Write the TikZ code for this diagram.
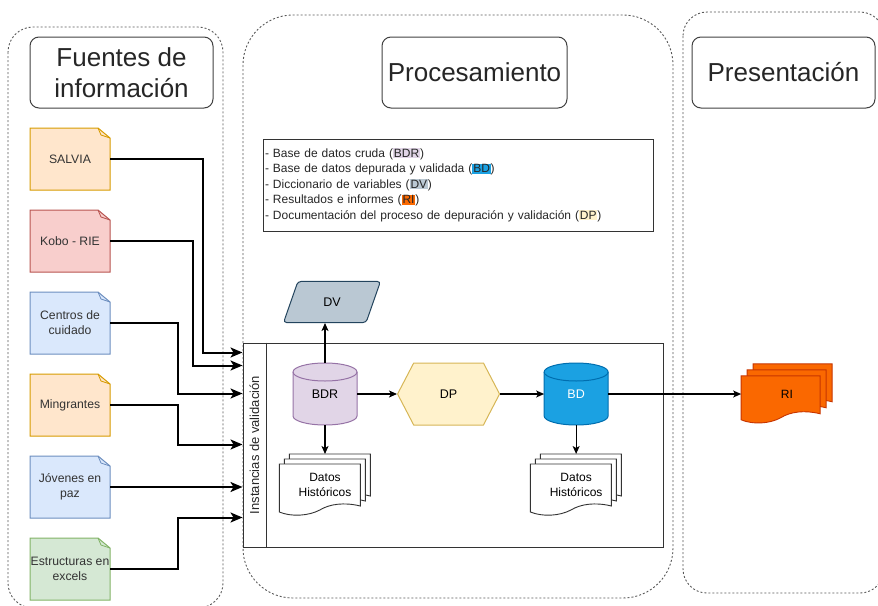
\documentclass[tikz,border=0pt]{standalone}
\usepackage{fontspec}
\setmainfont{Liberation Sans}
\usetikzlibrary{positioning,calc,backgrounds,arrows.meta,shapes.geometric,shapes.symbols}
\definecolor{orfill}{HTML}{FFE6CC}\definecolor{ordraw}{HTML}{D79B00}
\definecolor{redfill}{HTML}{F8CECC}\definecolor{reddraw}{HTML}{B85450}
\definecolor{bluefill}{HTML}{DAE8FC}\definecolor{bluedraw}{HTML}{6C8EBF}
\definecolor{greenfill}{HTML}{D5E8D4}\definecolor{greendraw}{HTML}{82B366}
\definecolor{purfill}{HTML}{E1D5E7}\definecolor{purdraw}{HTML}{9673A6}
\definecolor{yelfill}{HTML}{FFF2CC}\definecolor{yeldraw}{HTML}{D6B656}
\definecolor{bdfill}{HTML}{1BA1E2}\definecolor{bddraw}{HTML}{006EAF}
\definecolor{dvfill}{HTML}{BAC8D3}\definecolor{dvdraw}{HTML}{23445D}
\definecolor{rifill}{HTML}{FA6800}\definecolor{ridraw}{HTML}{C73500}
\newcommand{\abrv}[2]{{\setlength{\fboxsep}{0.8pt}\colorbox{#1}{#2}}}
% stack of three documents behind node #1
\newcommand{\docstack}[6]{%
	\foreach \s in {2,1,0}{%
		\draw[fill=#4,draw=#5,line width=0.9pt,shift={($(#1.north west)+({\s*#6},{(2-\s)*#6})$)}]
			(0,0) -- (#2,0) -- (#2,{#3-10}) .. controls ({0.8*#2},{#3-14}) and ({0.62*#2},{#3-12}) .. ({0.5*#2},{#3-6})
			.. controls ({0.36*#2},{#3}) and ({0.15*#2},{#3+1}) .. (0,{#3-4}) -- cycle;
	}%
}
% database drum behind node #1
\newcommand{\drum}[3]{%
	\draw[fill=#2,draw=#3,line width=1pt] ([yshift=-9pt]#1.north west) -- ([yshift=9pt]#1.south west)
		arc[start angle=180,end angle=360,x radius=32pt,y radius=9pt] -- ([yshift=-9pt]#1.north east)
		arc[start angle=0,end angle=180,x radius=32pt,y radius=9pt] -- cycle;
	\draw[draw=#3,line width=1pt] ([yshift=-9pt]#1.north west) arc[start angle=180,end angle=360,x radius=32pt,y radius=9pt];
}

\begin{document}
\begin{tikzpicture}[x=1pt,y=-1pt,
		container/.style={draw=black!65,line width=0.9pt,dash pattern=on 2pt off 2pt},
		title/.style={draw=black!75,line width=1pt,rounded corners=9pt,minimum width=183pt,minimum height=71pt,
			align=center,text=black!85,font=\fontsize{26}{31}\selectfont},
		src/.style={minimum width=80pt,minimum height=62pt,inner sep=0pt,outer sep=0pt,align=center,text=black!80,
			font=\fontsize{12.2}{15}\selectfont},
		db/.style={minimum width=64pt,minimum height=62pt,inner sep=0pt,outer sep=0pt,
			font=\fontsize{12.5}{15}\selectfont},
		hexa/.style={signal,signal to=east and west,signal pointer angle=125,minimum width=102pt,minimum height=62pt,
			inner sep=0pt,fill=yelfill,draw=yeldraw,line width=1pt,font=\fontsize{12.5}{15}\selectfont},
		para/.style={trapezium,trapezium left angle=67,trapezium right angle=113,trapezium stretches=true,
			minimum width=97pt,minimum height=41pt,rounded corners=3pt,inner sep=0pt,fill=dvfill,draw=dvdraw,
			line width=1pt,font=\fontsize{12.5}{15}\selectfont},
		stack/.style={minimum width=91pt,minimum height=62pt,inner sep=0pt,align=center,
			font=\fontsize{12}{15}\selectfont},
		flow/.style={-{Stealth[length=12pt,width=10pt,inset=3pt]},line width=2pt},
		link/.style={-{Stealth[length=8pt,width=7pt,inset=2pt]},line width=1.2pt}]
	\useasboundingbox (0,0) rectangle (878,605);
	% containers
	\draw[container,rounded corners=25pt] (8,27) rectangle (223,608);
	\draw[container,rounded corners=50pt] (243,15) rectangle (673,598);
	\draw[container,rounded corners=24pt] (683,12) rectangle (884,593);
	\node[title] (fuentes) at (121.5,72.5) {Fuentes de\\información};
	\node[title,minimum width=185pt] (proc) at (474.5,72.5) {Procesamiento};
	\node[title] (pres) at (783.5,72.5) {Presentación};
	% sources
	\node[src] (salvia) at (70,159) {SALVIA};
	\node[src] (kobo) [below=20pt of salvia] {Kobo - RIE};
	\node[src] (centros) [below=20pt of kobo] {Centros de\\cuidado};
	\node[src] (migr) [below=20pt of centros] {Mingrantes};
	\node[src] (jovenes) [below=20pt of migr] {Jóvenes en\\paz};
	\node[src] (excels) [below=20pt of jovenes] {Estructuras en\\excels};
	\begin{scope}[on background layer]
		\foreach \n/\f/\d in {salvia/orfill/ordraw,kobo/redfill/reddraw,centros/bluefill/bluedraw,
			migr/orfill/ordraw,jovenes/bluefill/bluedraw,excels/greenfill/greendraw}{
			\draw[fill=\f,draw=\d,line width=1pt] (\n.south west) -- (\n.north west) -- ([xshift=-12pt]\n.north east)
				-- ([yshift=-10pt]\n.north east) -- (\n.south east) -- cycle;
			\draw[draw=\d,line width=0.8pt] ([xshift=-12pt]\n.north east) -- ([xshift=-9pt,yshift=-7pt]\n.north east)
				-- ([yshift=-10pt]\n.north east);
		}
	\end{scope}
	% legend
	\node[draw=black!80,line width=1pt,minimum width=390pt,minimum height=92pt,text width=386pt,inner sep=2pt,
		align=left,text=black!85,font=\fontsize{12}{15.5}\selectfont] (legend) at (458,185)
		{- Base de datos cruda (\abrv{purfill}{BDR})\\
		- Base de datos depurada y validada (\abrv{bdfill}{BD})\\
		- Diccionario de variables (\abrv{dvfill}{DV})\\
		- Resultados e informes (\abrv{rifill}{RI})\\
		- Documentación del proceso de depuración y validación (\abrv{yelfill}{DP})};
	% pool
	\node[draw=black!80,line width=1pt,minimum width=420pt,minimum height=204pt,inner sep=0pt] (pool) at (453,445) {};
	\draw[draw=black!80,line width=1pt] ([xshift=24pt]pool.north west) -- ([xshift=24pt]pool.south west);
	\node[rotate=90,text=black!85,font=\fontsize{13}{15}\selectfont] (lane) at ([xshift=12pt]pool.west) {Instancias de validación};
	\foreach \n/\d in {1/10,2/23,3/51,4/102,5/144,6/175}
		\coordinate (in\n) at ($(pool.north west)+(0,\d)$);
	% processing
	\node[db] (bdr) at (325,394) {BDR};
	\node[hexa] (dp) [right=40pt of bdr] {DP};
	\node[db,text=white] (bd) [right=44pt of dp] {BD};
	\node[para] (dv) [above=40pt of bdr,xshift=7pt] {DV};
	\node[stack] (hist1) [below=29pt of bdr] {Datos\\Históricos};
	\node[stack] (hist2) [below=29pt of bd] {Datos\\Históricos};
	\node[stack,minimum height=60pt] (ri) [right=133pt of bd] {RI};
	\begin{scope}[on background layer]
		\drum{bdr}{purfill}{purdraw}
		\drum{bd}{bdfill}{bddraw}
		\docstack{hist1}{81}{52}{white}{black!80}{5}
		\docstack{hist2}{81}{52}{white}{black!80}{5}
		\docstack{ri}{79}{48}{rifill}{ridraw}{6}
	\end{scope}
	% flows
	\draw[flow] (salvia.east) -- ++(93,0) |- (in1);
	\draw[flow] (kobo.east) -- ++(83,0) |- (in2);
	\draw[flow] (centros.east) -- ++(68,0) |- (in3);
	\draw[flow] (migr.east) -- ++(68,0) |- (in4);
	\draw[flow] (jovenes.east) -- (jovenes.east -| in5);
	\draw[flow] (excels.east) -- ++(68,0) |- (in6);
	\draw[link] (bdr.north) -- (bdr.north |- dv.south);
	\draw[link] (bdr.east) -- (dp.west);
	\draw[link] (dp.east) -- (bd.west);
	\draw[link] (bdr.south) -- (bdr.south |- hist1.north);
	\draw[link] (bd.south) -- (bd.south |- hist2.north);
	\draw[link] (bd.east) -- (ri.west);
\end{tikzpicture}
\end{document}
